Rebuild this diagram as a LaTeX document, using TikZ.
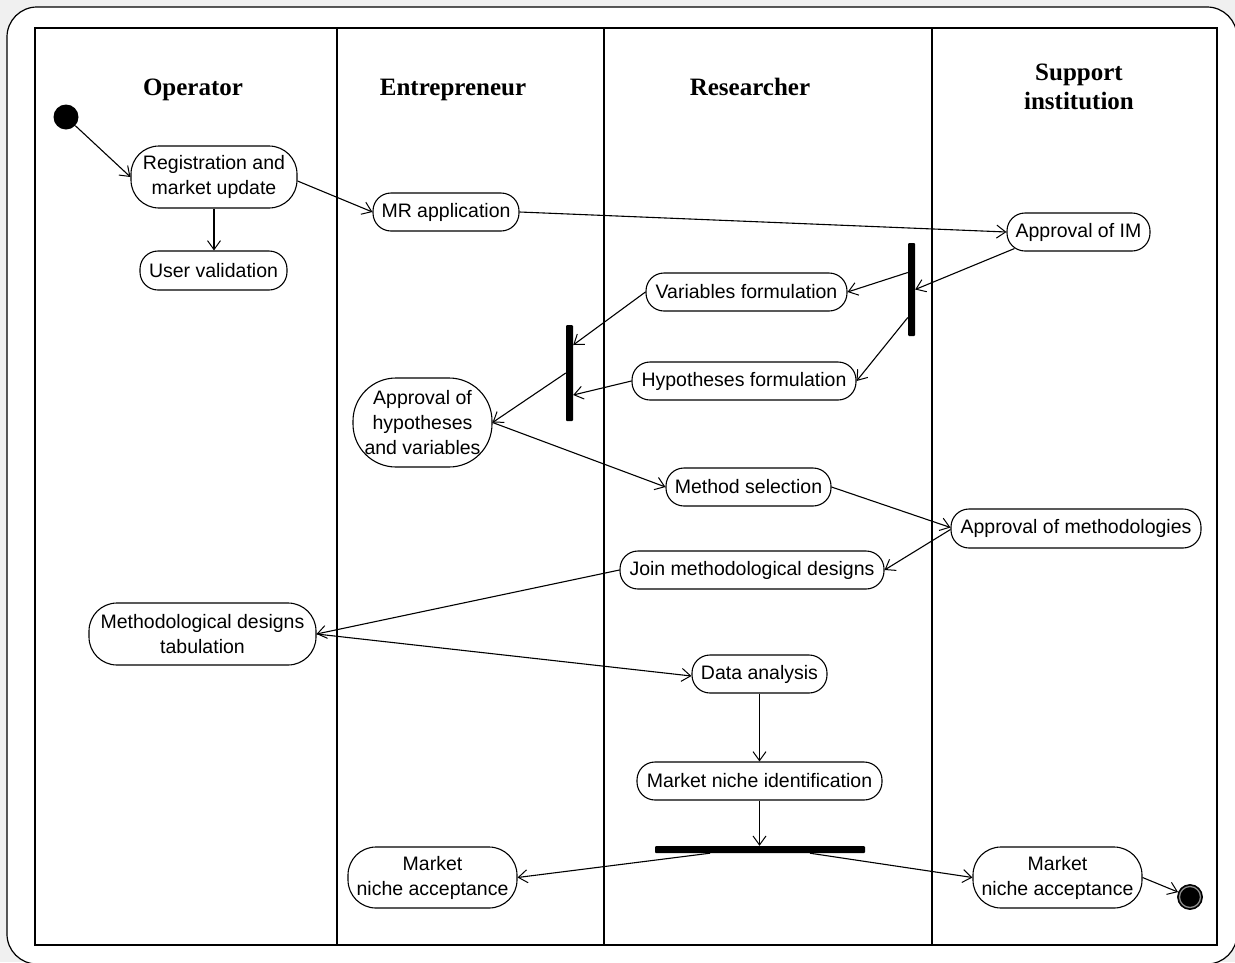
\documentclass[tikz,border=0pt]{standalone}
\usepackage{fontspec}
\setmainfont{Liberation Serif}
\newfontfamily\sansf{Liberation Sans}
\usetikzlibrary{arrows.meta}
\definecolor{bggray}{HTML}{F0F0F0}
\begin{document}
\begin{tikzpicture}[x=1pt,y=-1pt,
  act/.style={draw, line width=1.1pt, rounded corners=18pt, inner sep=0pt, align=center,
    font=\sansf\fontsize{19.5}{25}\selectfont, fill=white},
  tall/.style={act, rounded corners=28pt},
  bar/.style={fill=black, draw=none, inner sep=0pt, rounded corners=1pt},
  lane/.style={font=\bfseries\fontsize{25}{29}\selectfont, align=center, inner sep=0pt},
  lane1/.style={lane, text height=17pt, text depth=6pt},
  flow/.style={line width=1.1pt, -{Straight Barb[length=9pt,width=13pt,line width=1pt]}},
  frameline/.style={line width=1.4pt}]
\useasboundingbox (0,0) rectangle (1235,962);
\clip (0,0) rectangle (1235,962);
\fill[bggray] (0,0) rectangle (1235,962);
\draw[line width=1.2pt, fill=white, rounded corners=30pt] (7,7) rectangle (1237,964);
% frame and lanes
\draw[frameline] (35,28) rectangle (1217,945);
\draw[frameline] (337,28) -- (337,945);
\draw[frameline] (604,28) -- (604,945);
\draw[frameline] (932,28) -- (932,945);
% headers
\node[lane1] (hop) at (193,90) {Operator};
\node[lane1] (hen) at (453,90) {Entrepreneur};
\node[lane1] (hre) at (750,90) {Researcher};
\node[lane] (hsu) at (1079,87) {Support\\institution};
% start / end
\node[circle, fill=black, minimum size=25pt, inner sep=0pt] (start) at (66,117) {};
\node[circle, fill=black, draw=black, line width=0.8pt, minimum size=25pt, inner sep=0pt] (end) at (1190,897) {};
\draw[black!45, line width=1.3pt] (end) circle (10.5);
% activities
\node[tall, minimum width=166pt, minimum height=62pt] (reg) at (214,177) {Registration and\\market update};
\node[act, minimum width=147pt, minimum height=39pt] (uv) at (213.5,270.5) {User validation};
\node[act, minimum width=146pt, minimum height=38pt] (mr) at (446,212) {MR application};
\node[act, minimum width=143pt, minimum height=38pt] (apim) at (1078.5,232) {Approval of IM};
\node[act, minimum width=201pt, minimum height=38pt] (varf) at (746.5,292) {Variables formulation};
\node[act, minimum width=224pt, minimum height=38pt] (hypf) at (744,381) {Hypotheses formulation};
\node[act, rounded corners=43pt, minimum width=139pt, minimum height=89pt] (ahv) at (422.5,422.5) {Approval of\\hypotheses\\and variables};
\node[act, minimum width=165pt, minimum height=38pt] (ms) at (748.5,487) {Method selection};
\node[act, minimum width=250pt, minimum height=39pt] (am) at (1076,528.5) {Approval of methodologies};
\node[act, minimum width=264pt, minimum height=38pt] (join) at (752,570) {Join methodological designs};
\node[tall, minimum width=227pt, minimum height=62pt] (tab) at (202.5,634) {Methodological designs\\tabulation};
\node[act, minimum width=135pt, minimum height=38pt] (da) at (759.5,674) {Data analysis};
\node[act, minimum width=245pt, minimum height=38pt] (mni) at (759.5,781) {Market niche identification};
\node[tall, minimum width=169pt, minimum height=61pt] (mnal) at (432.5,877.5) {Market\\niche acceptance};
\node[tall, minimum width=169pt, minimum height=61pt] (mnar) at (1057.5,877.5) {Market\\niche acceptance};
% bars
\node[bar, minimum width=7pt, minimum height=93pt] (bar1) at (911.5,289.5) {};
\node[bar, minimum width=7pt, minimum height=96pt] (bar2) at (569.5,373) {};
\node[bar, minimum width=210pt, minimum height=7pt] (hbar) at (760,849.5) {};
% flows
\draw[flow] (start) -- (reg.west);
\draw[flow] (reg.south) -- (reg.south |- uv.north);
\draw[flow] ([yshift=-4pt]reg.east) -- (mr.west);
\draw[flow] (mr.east) -- (apim.west);
\draw[flow] ([xshift=8pt,yshift=3pt]apim.south west) -- (bar1.east);
\draw[flow] ([yshift=17pt]bar1.west) -- (varf.east);
\draw[flow] ([yshift=-28pt]bar1.west) -- (hypf.east);
\draw[flow] (varf.west) -- ([yshift=28pt]bar2.east);
\draw[flow] (hypf.west) -- ([yshift=-22pt]bar2.east);
\draw[flow] (bar2.west) -- (ahv.east);
\draw[flow] (ahv.east) -- (ms.west);
\draw[flow] (ms.east) -- ([yshift=1pt]am.west);
\draw[flow] ([yshift=-1pt]am.west) -- (join.east);
\draw[flow] (join.west) -- (tab.east);
\draw[flow] (tab.east) -- ([yshift=-2pt]da.west);
\draw[flow] (da.south) -- (da.south |- mni.north);
\draw[flow] (mni.south) -- (mni.south |- hbar.north);
\draw[flow] ([xshift=-50pt]hbar.south) -- (mnal.east);
\draw[flow] ([xshift=50pt]hbar.south) -- (mnar.west);
\draw[flow] (mnar.east) -- (end);
\end{tikzpicture}
\end{document}
